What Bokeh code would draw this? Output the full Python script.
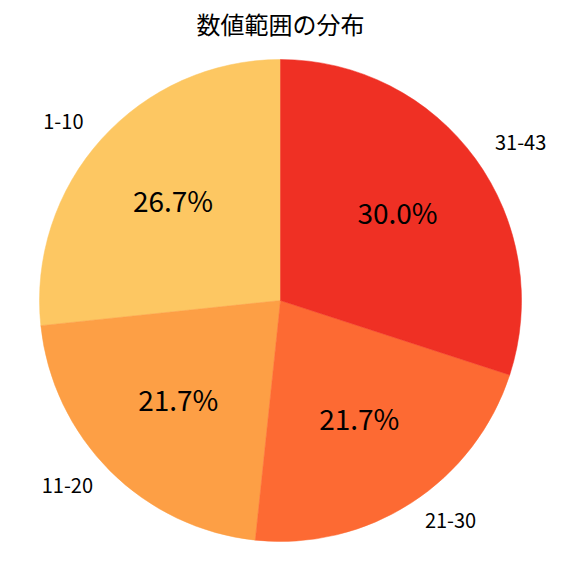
import math
from bokeh.plotting import figure
from bokeh.models import Range1d, ColumnDataSource
from bokeh.core.properties import value
from bokeh.embed import file_html
from bokeh.resources import INLINE

title = "数値範囲の分布"
categories = ["1-10", "11-20", "21-30", "31-43"]
counts = [16, 13, 13, 18]
colors = ["#FDC762", "#FD9F45", "#FD6A33", "#EF3024"]

W = H = 560
p = figure(width=W, height=H, output_backend="svg", toolbar_location=None,
           x_range=Range1d(0, W), y_range=Range1d(0, H), min_border=0)
p.axis.visible = False
p.grid.visible = False
p.outline_line_color = None
p.background_fill_color = "white"

cx, cy, r = 280, 260, 241
total = sum(counts)
start = math.radians(90)
starts, ends, lx, ly, lal, px, py, ptxt = [], [], [], [], [], [], [], []
a = start
for c in counts:
    frac = c / total
    b = a + frac * 2 * math.pi
    starts.append(a)
    ends.append(b)
    mid = (a + b) / 2
    lx.append(cx + 1.1 * r * math.cos(mid))
    ly.append(cy + 1.1 * r * math.sin(mid))
    lal.append("left" if math.cos(mid) >= 0 else "right")
    px.append(cx + 0.6 * r * math.cos(mid))
    py.append(cy + 0.6 * r * math.sin(mid))
    ptxt.append(f"{frac*100:.1f}%")
    a = b

src = ColumnDataSource(dict(start=starts, end=ends, color=colors, lx=lx, ly=ly,
                            lal=lal, px=px, py=py, ptxt=ptxt, cat=categories))
p.wedge(x=cx, y=cy, radius=r, start_angle="start", end_angle="end",
        fill_color="color", line_color="color", line_width=0.5, source=src)
p.text(x="lx", y="ly", text="cat", text_align="lal", text_baseline="middle",
       y_offset=-2,
       text_font=value("Noto Sans CJK JP"), text_font_size="20px",
       text_color="black", source=src)
p.text(x="px", y="py", text="ptxt", text_align="center", text_baseline="middle",
       y_offset=-4,
       text_font=value("Noto Sans CJK JP"), text_font_size="28px",
       text_color="black", source=src)
p.text(x=[W / 2], y=[H - 25], text=[title], text_align="center", text_baseline="middle",
       y_offset=-2,
       text_font=value("Noto Sans CJK JP"), text_font_size="24px",
       text_font_style="normal", text_color="black")

open("out.html", "w").write(file_html(p, INLINE))
